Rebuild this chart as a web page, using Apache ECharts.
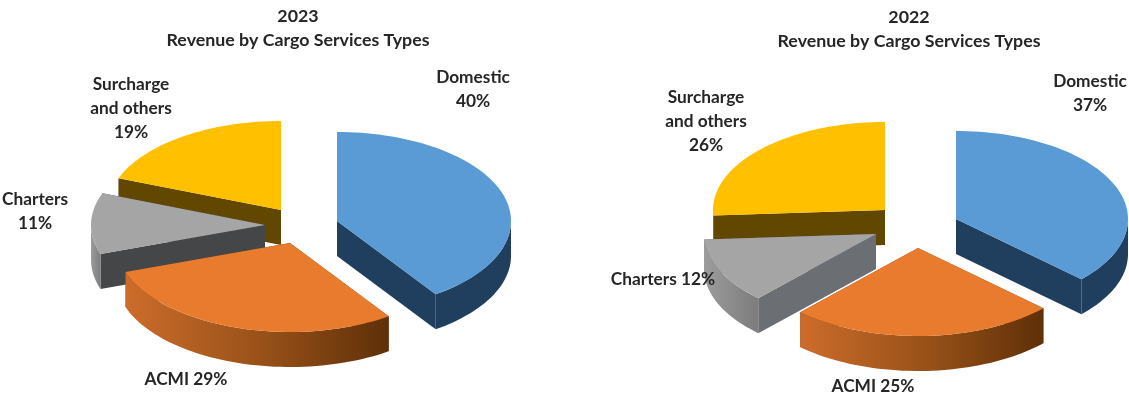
<!DOCTYPE html>
<html>
<head>
<meta charset="utf-8">
<style>html,body{margin:0;padding:0;background:#fff}#chart{width:1129px;height:394px}</style>
<script src="https://cdn.jsdelivr.net/npm/echarts@6/dist/echarts.min.js"></script>
</head>
<body>
<div id="chart"></div>
<script>
// Cargo revenue shares by service type
const categories = ['Domestic', 'ACMI', 'Charters', 'Surcharge\nand others'];
const values2023 = [40, 29, 11, 19];
const values2022 = [37, 25, 12, 26];
const titleLine = 'Revenue by Cargo Services Types';

// Colours per slice: top face and outer rim (left to right)
const faceColors = ['#5B9BD5', '#E97B2F', '#A5A5A5', '#FFC000'];
const rimColors = [
  ['#203F5E', '#203F5E'],
  ['#CC6C2B', '#9A5219', '#5F3008'],
  ['#9C9C9C', '#7C7C7C'],
  ['#7A5A00', '#5F4600']
];
// Slices are painted back to front, independent of their clockwise order
const paintOrder = [2, 3, 1, 0]; // rank per slice index

const FONT = 'Lato, "Open Sans", sans-serif';
const TITLE_SIZE = 17.8;
const LABEL_SIZE = 17.3;
const TEXT = '#262626';

const pies = [
  {
    year: '2023', values: values2023, titleX: 298, titleY: 5,
    rx: 174, ry: 89, depth: 35,
    apex: [[337, 221], [290, 243], [265, 225], [281, 210]],
    walls: ['#203F5E', '#7A3F10', '#454648', '#614700'],
    labels: [[473, 65], [186, 367], [35, 187], [131, 72]],
    seps: ['\n', ' ', '\n', '\n']
  },
  {
    year: '2022', values: values2022, titleX: 909, titleY: 6,
    rx: 172, ry: 88, depth: 35,
    apex: [[956, 219], [918, 248], [876, 234], [885, 210]],
    walls: ['#203F5E', '#7A3F10', '#6B6F73', '#614700'],
    labels: [[1090, 69], [873, 374], [663, 267], [706, 85]],
    seps: ['\n', ' ', ' ', '\n']
  }
];

// Point on a slice rim; the angle runs clockwise from twelve o'clock
function rimPoint(c, pie, deg, drop) {
  const a = deg * Math.PI / 180;
  return [c[0] + pie.rx * Math.sin(a), c[1] - pie.ry * Math.cos(a) + (drop || 0)];
}

function arcPoints(c, pie, from, to, drop) {
  const pts = [];
  const steps = Math.max(2, Math.ceil((to - from) / 2));
  for (let i = 0; i <= steps; i++) {
    pts.push(rimPoint(c, pie, from + (to - from) * i / steps, drop));
  }
  return pts;
}

function wallQuad(c, pie, deg) {
  const r = rimPoint(c, pie, deg);
  return [c, r, [r[0], r[1] + pie.depth], [c[0], c[1] + pie.depth]];
}

function makeRenderItem(pie) {
  const total = pie.values.reduce((s, v) => s + v, 0);
  return function (params, api) {
    const i = params.dataIndex;
    const value = api.value(0);
    const before = pie.values.slice(0, i).reduce((s, v) => s + v, 0);
    const start = before / total * 360;
    const end = start + value / total * 360;
    const c = pie.apex[i];
    const base = paintOrder[i] * 10 + 1;
    const children = [];

    // Radial walls, then the front part of the outer rim, then the top face
    [start, end].forEach(function (deg) {
      children.push({
        type: 'polygon', z2: base,
        shape: { points: wallQuad(c, pie, deg) },
        style: { fill: pie.walls[i] }
      });
    });
    const from = Math.max(start, 90), to = Math.min(end, 270);
    if (to > from) {
      const upper = arcPoints(c, pie, from, to, 0);
      const lower = arcPoints(c, pie, from, to, pie.depth).reverse();
      const stops = rimColors[i].map((col, k, arr) => ({ offset: k / (arr.length - 1), color: col }));
      children.push({
        type: 'polygon', z2: base + 1,
        shape: { points: upper.concat(lower) },
        style: { fill: new echarts.graphic.LinearGradient(0, 0, 1, 0, stops) }
      });
    }
    children.push({
      type: 'polygon', z2: base + 2,
      shape: { points: [c].concat(arcPoints(c, pie, start, end, 0)) },
      style: { fill: faceColors[i] }
    });

    // Slice label with its share
    children.push({
      type: 'text', z2: 100,
      x: pie.labels[i][0], y: pie.labels[i][1],
      style: {
        text: categories[i] + pie.seps[i] + value + '%',
        font: 'bold ' + LABEL_SIZE + 'px ' + FONT,
        fill: TEXT,
        align: 'center',
        verticalAlign: 'top',
        lineHeight: 24
      }
    });
    return { type: 'group', children: children };
  };
}

const chart = echarts.init(document.getElementById('chart'), null, { renderer: 'canvas' });
chart.setOption({
  animation: false,
  backgroundColor: '#ffffff',
  title: pies.map(p => ({
    text: p.year + '\n' + titleLine,
    left: p.titleX,
    top: p.titleY,
    textAlign: 'center',
    padding: 0,
    textStyle: { fontFamily: FONT, fontSize: TITLE_SIZE, fontWeight: 'bold', color: TEXT, lineHeight: 23.5 }
  })),
  series: pies.map(p => ({
    type: 'custom',
    name: p.year,
    coordinateSystem: 'none',
    silent: true,
    clip: false,
    renderItem: makeRenderItem(p),
    data: p.values.map(v => [v])
  }))
});
</script>
</body>
</html>
